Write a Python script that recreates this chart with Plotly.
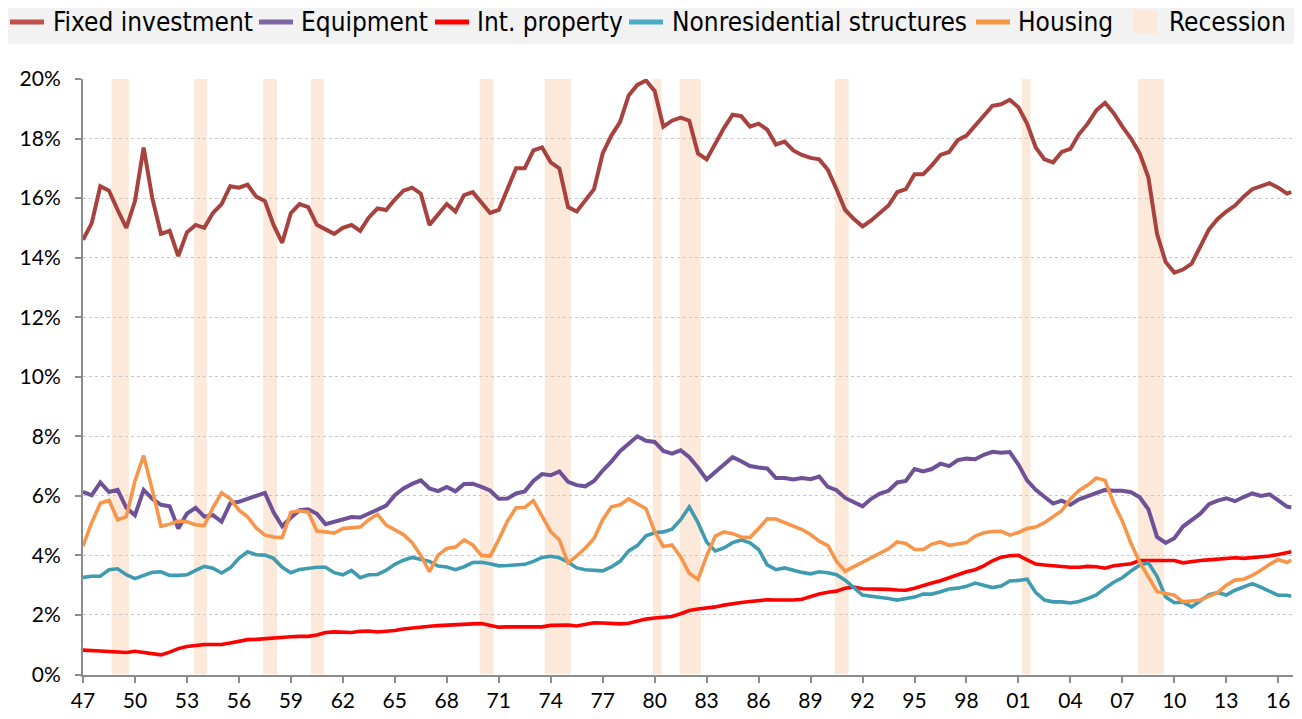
import plotly.graph_objects as go

# Half-year observation dates (decimal years), last point 2016Q4
dates = [1947 + 0.5 * i for i in range(140)] + [2016.75]

fixed_investment = [
    14.6, 15.15, 16.4, 16.25, 15.6, 15.0, 15.9, 17.7, 16.0, 14.8, 14.9, 14.05, 14.85, 15.1, 15.0, 15.5, 15.8, 16.4, 16.35, 16.45,
    16.05, 15.9, 15.1, 14.5, 15.5, 15.8, 15.7, 15.1, 14.95, 14.8, 15.0, 15.1, 14.9, 15.35, 15.65, 15.6, 15.95, 16.25, 16.35, 16.15,
    15.1, 15.45, 15.8, 15.55, 16.1, 16.2, 15.85, 15.5, 15.6, 16.3, 17.0, 17.0, 17.6, 17.7, 17.2, 17.0, 15.7, 15.55, 15.9, 16.3,
    17.5, 18.1, 18.55, 19.45, 19.8, 19.95, 19.6, 18.4, 18.6, 18.7, 18.6, 17.5, 17.3, 17.85, 18.35, 18.8, 18.75, 18.4, 18.5, 18.3,
    17.8, 17.9, 17.6, 17.45, 17.35, 17.3, 16.95, 16.3, 15.6, 15.3, 15.05, 15.25, 15.5, 15.75, 16.2, 16.3, 16.8, 16.8, 17.1, 17.45,
    17.55, 17.95, 18.1, 18.45, 18.8, 19.1, 19.15, 19.3, 19.05, 18.5, 17.7, 17.3, 17.2, 17.55, 17.65, 18.15, 18.5, 18.95, 19.2, 18.85,
    18.4, 18.0, 17.5, 16.7, 14.8, 13.85, 13.5, 13.6, 13.8, 14.35, 14.95, 15.3, 15.55, 15.75, 16.05, 16.3, 16.4, 16.5, 16.35, 16.15,
    16.2,
]

equipment = [
    6.13, 6.02, 6.45, 6.13, 6.2, 5.6, 5.35, 6.2, 5.9, 5.7, 5.65, 4.9, 5.4, 5.6, 5.3, 5.35, 5.13, 5.75, 5.8, 5.9,
    5.97, 6.1, 5.45, 4.98, 5.27, 5.52, 5.55, 5.4, 5.05, 5.13, 5.24, 5.29, 5.27, 5.4, 5.55, 5.67, 6.02, 6.25, 6.4, 6.52,
    6.25, 6.16, 6.3, 6.15, 6.4, 6.41, 6.3, 6.18, 5.9, 5.91, 6.08, 6.15, 6.5, 6.73, 6.69, 6.82, 6.47, 6.36, 6.32, 6.5,
    6.85, 7.15, 7.5, 7.73, 8.0, 7.85, 7.81, 7.51, 7.42, 7.53, 7.3, 6.95, 6.55, 6.8, 7.07, 7.3, 7.16, 7.0, 6.95, 6.92,
    6.6, 6.6, 6.55, 6.6, 6.56, 6.65, 6.3, 6.19, 5.93, 5.8, 5.65, 5.9, 6.08, 6.17, 6.45, 6.5, 6.9, 6.82, 6.9, 7.08,
    7.0, 7.2, 7.25, 7.23, 7.38, 7.48, 7.45, 7.47, 7.05, 6.52, 6.2, 5.97, 5.74, 5.84, 5.7, 5.88, 5.99, 6.1, 6.2, 6.17,
    6.17, 6.12, 5.95, 5.55, 4.62, 4.42, 4.58, 4.97, 5.18, 5.4, 5.72, 5.84, 5.92, 5.82, 5.96, 6.08, 6.0, 6.05, 5.85, 5.64,
    5.61,
]

int_property = [
    0.82, 0.79, 0.79, 0.77, 0.74, 0.74, 0.78, 0.75, 0.69, 0.66, 0.75, 0.87, 0.94, 0.98, 1.01, 1.01, 1.01, 1.06, 1.13, 1.17,
    1.18, 1.2, 1.25, 1.26, 1.27, 1.28, 1.28, 1.33, 1.41, 1.43, 1.41, 1.41, 1.45, 1.46, 1.43, 1.44, 1.48, 1.53, 1.57, 1.6,
    1.62, 1.64, 1.66, 1.68, 1.69, 1.7, 1.71, 1.66, 1.59, 1.6, 1.6, 1.59, 1.58, 1.6, 1.65, 1.66, 1.66, 1.63, 1.68, 1.74,
    1.73, 1.71, 1.7, 1.72, 1.8, 1.86, 1.9, 1.93, 1.95, 2.04, 2.15, 2.2, 2.23, 2.27, 2.33, 2.39, 2.42, 2.45, 2.49, 2.51,
    2.5, 2.49, 2.5, 2.53, 2.62, 2.7, 2.76, 2.8, 2.9, 2.94, 2.88, 2.88, 2.88, 2.86, 2.84, 2.83, 2.9, 3.0, 3.07, 3.15,
    3.25, 3.36, 3.45, 3.52, 3.65, 3.82, 3.94, 3.99, 4.0, 3.85, 3.71, 3.68, 3.65, 3.61, 3.6, 3.6, 3.63, 3.62, 3.57, 3.65,
    3.7, 3.72, 3.83, 3.83, 3.82, 3.84, 3.83, 3.75, 3.8, 3.83, 3.85, 3.87, 3.91, 3.92, 3.9, 3.92, 3.95, 3.98, 4.03, 4.1,
    4.12,
]

nonres_structures = [
    3.26, 3.3, 3.3, 3.52, 3.55, 3.35, 3.22, 3.32, 3.43, 3.45, 3.33, 3.33, 3.35, 3.5, 3.63, 3.57, 3.41, 3.58, 3.9, 4.12,
    4.02, 4.01, 3.9, 3.6, 3.42, 3.53, 3.57, 3.6, 3.6, 3.42, 3.35, 3.5, 3.25, 3.35, 3.36, 3.5, 3.7, 3.84, 3.93, 3.86,
    3.8, 3.64, 3.61, 3.52, 3.62, 3.76, 3.77, 3.72, 3.65, 3.66, 3.67, 3.7, 3.8, 3.93, 3.97, 3.92, 3.78, 3.58, 3.52, 3.5,
    3.48, 3.61, 3.8, 4.15, 4.33, 4.66, 4.76, 4.79, 4.88, 5.2, 5.63, 5.1, 4.45, 4.15, 4.25, 4.43, 4.52, 4.42, 4.2, 3.68,
    3.52, 3.58, 3.5, 3.43, 3.38, 3.45, 3.42, 3.35, 3.17, 2.9, 2.67, 2.63, 2.6, 2.55, 2.5, 2.55, 2.6, 2.7, 2.7, 2.78,
    2.87, 2.9, 2.96, 3.07, 3.0, 2.92, 2.97, 3.14, 3.16, 3.2, 2.75, 2.5, 2.44, 2.44, 2.4, 2.45, 2.55, 2.67, 2.9, 3.1,
    3.25, 3.48, 3.67, 3.75, 3.3, 2.6, 2.41, 2.43, 2.27, 2.47, 2.68, 2.75, 2.67, 2.83, 2.95, 3.05, 2.93, 2.8, 2.66, 2.66,
    2.63,
]

housing = [
    4.31, 5.1, 5.75, 5.85, 5.2, 5.3, 6.5, 7.35, 6.2, 4.98, 5.05, 5.15, 5.13, 5.03, 5.0, 5.6, 6.1, 5.9, 5.52, 5.3,
    4.92, 4.68, 4.62, 4.6, 5.45, 5.5, 5.45, 4.82, 4.79, 4.75, 4.9, 4.93, 4.95, 5.2, 5.38, 5.02, 4.86, 4.7, 4.43, 4.0,
    3.45, 4.01, 4.23, 4.28, 4.52, 4.35, 4.0, 3.98, 4.53, 5.15, 5.6, 5.61, 5.84, 5.3, 4.8, 4.52, 3.75, 3.98, 4.25, 4.57,
    5.2, 5.63, 5.7, 5.9, 5.74, 5.57, 4.8, 4.3, 4.35, 3.95, 3.4, 3.19, 3.98, 4.65, 4.79, 4.73, 4.62, 4.6, 4.9, 5.23,
    5.22, 5.1, 4.96, 4.87, 4.7, 4.48, 4.33, 3.8, 3.47, 3.62, 3.78, 3.93, 4.08, 4.22, 4.45, 4.4, 4.2, 4.2, 4.38, 4.45,
    4.34, 4.37, 4.43, 4.65, 4.76, 4.8, 4.81, 4.68, 4.77, 4.9, 4.95, 5.1, 5.3, 5.5, 5.9, 6.18, 6.36, 6.6, 6.52, 5.75,
    5.15, 4.4, 3.77, 3.3, 2.78, 2.72, 2.66, 2.44, 2.46, 2.5, 2.63, 2.75, 3.0, 3.17, 3.2, 3.33, 3.5, 3.7, 3.86, 3.76,
    3.84,
]

# NBER recessions (decimal years)
recession_start = [1948.65, 1953.4, 1957.4, 1960.16, 1969.9, 1973.66, 1979.9, 1981.45, 1990.4, 2001.2, 2007.9]
recession_end = [1949.65, 1954.15, 1958.2, 1960.9, 1970.7, 1975.16, 1980.4, 1982.66, 1991.2, 2001.7, 2009.4]

tick_years = list(range(1947, 2017, 3))
tick_labels = ["47", "50", "53", "56", "59", "62", "65", "68", "71", "74", "77", "80", "83", "86",
               "89", "92", "95", "98", "01", "04", "07", "10", "13", "16"]
y_ticks = list(range(0, 21, 2))
y_labels = ["0%", "2%", "4%", "6%", "8%", "10%", "12%", "14%", "16%", "18%", "20%"]

series = [
    ("Fixed investment", fixed_investment, "#A8423E", 4),
    ("Equipment", equipment, "#6F5197", 4),
    ("Int. property", int_property, "#FF0000", 3.6),
    ("Nonresidential structures", nonres_structures, "#3F9BB0", 3.6),
    ("Housing", housing, "#F7964A", 3.6),
]
legend_swatch = ["#C0504D", "#8064A2", "#FF0000", "#4BACC6", "#F79646"]

REC_COLOR = "#FCE9DA"

# ---- layout geometry ----
# The page body adds an 8px margin, so the figure is 8px smaller than the window
# and all screen positions below are shifted by OFF.
OFF = 8
W, H = 1302 - OFF, 719 - OFF
L = 83 - OFF                # plot left edge
RIGHT = 1293 - OFF          # plot right edge
TOP = 79 - OFF              # plot top edge
BOTTOM = 674.5 - OFF        # plot bottom edge


def px_x(p):
    return (p - OFF) / W


def px_y(p):
    return (H - (p - OFF)) / H


# legend item left edges (symbol start, text start) in screen pixels
legend_sym_x = [10, 259, 435, 629, 976]
legend_txt_x = [51, 299, 475, 670, 1016]
rec_box_x, rec_txt_x = 1133, 1167
LEG_Y = 22
LEG_FONT = dict(family="Liberation Sans Narrow, Arial Narrow, DejaVu Sans Condensed, sans-serif",
                size=26, color="#000000")

fig = go.Figure()
for name, vals, color, w in series:
    fig.add_trace(go.Scatter(x=dates, y=vals, name=name, mode="lines",
                             line=dict(color=color, width=w), showlegend=False))

shapes = []
# light grey legend band along the top (screen rows 0-44)
shapes.append(dict(type="rect", xref="paper", yref="paper", x0=0, x1=1,
                   y0=px_y(44), y1=1, fillcolor="#F2F2F2", line=dict(width=0), layer="below"))
for s, e in zip(recession_start, recession_end):
    shapes.append(dict(type="rect", xref="x", yref="y", x0=s, x1=e, y0=0, y1=20,
                       fillcolor=REC_COLOR, line=dict(width=0), layer="below"))

annotations = []
for (name, _, _, _), sw, sx, tx in zip(series, legend_swatch, legend_sym_x, legend_txt_x):
    shapes.append(dict(type="line", xref="paper", yref="paper", x0=px_x(sx), x1=px_x(sx + 34),
                       y0=px_y(LEG_Y), y1=px_y(LEG_Y), line=dict(color=sw, width=5)))
    annotations.append(dict(text=name, xref="paper", yref="paper", x=px_x(tx), y=px_y(LEG_Y),
                            xanchor="left", yanchor="middle", showarrow=False, font=LEG_FONT))
shapes.append(dict(type="rect", xref="paper", yref="paper", x0=px_x(rec_box_x), x1=px_x(rec_box_x + 24),
                   y0=px_y(LEG_Y + 12), y1=px_y(LEG_Y - 12), fillcolor=REC_COLOR, line=dict(width=0)))
annotations.append(dict(text="Recession", xref="paper", yref="paper", x=px_x(rec_txt_x), y=px_y(LEG_Y),
                        xanchor="left", yanchor="middle", showarrow=False, font=LEG_FONT))

fig.update_layout(
    width=W, height=H,
    margin=dict(l=0, r=0, t=0, b=0),
    paper_bgcolor="white", plot_bgcolor="white",
    shapes=shapes, annotations=annotations,
    showlegend=False,
    font=dict(family="Lato, sans-serif", size=21, color="#000000"),
    hovermode=False,
)

fig.update_xaxes(domain=[L / W, RIGHT / W], range=[1947, 2016.85],
                 tickmode="array", tickvals=tick_years, ticktext=tick_labels,
                 showgrid=False, zeroline=False, showline=True, linecolor="#8C8C8C", linewidth=2,
                 ticks="outside", ticklen=6, tickwidth=2, tickcolor="#8C8C8C", automargin=False,
                 tickfont=dict(family="Lato, sans-serif", size=21, color="#000000"))
fig.update_yaxes(domain=[(H - BOTTOM) / H, (H - TOP) / H], range=[0, 20],
                 tickmode="array", tickvals=y_ticks, ticktext=y_labels,
                 showgrid=True, gridcolor="#C8C8C8", griddash="dot", gridwidth=1,
                 zeroline=False, showline=True, linecolor="#8C8C8C", linewidth=2,
                 ticks="outside", ticklen=6, tickwidth=2, tickcolor="#8C8C8C", automargin=False,
                 ticklabelstandoff=10,
                 tickfont=dict(family="Lato, sans-serif", size=21, color="#000000"))

fig.write_html("out.html")
